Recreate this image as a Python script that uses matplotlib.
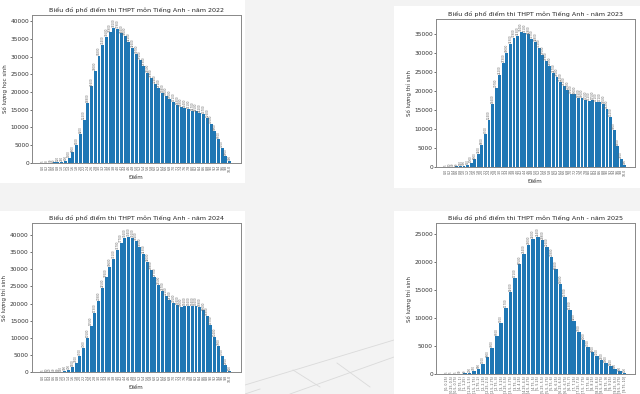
import matplotlib
matplotlib.use('Agg')
import matplotlib.pyplot as plt
from matplotlib.patches import Rectangle
from matplotlib.lines import Line2D

# ---- data (approximate) ----
scores_02 = ['%.1f' % (i * 0.2) for i in range(51)]
scores_025 = ['[%g, %g)' % (i * 0.25, (i + 1) * 0.25) for i in range(39)] + ['[9.75, 10]']

counts_2022 = [5, 8, 30, 60, 120, 260, 600, 1300, 2900, 5100,
               8200, 12200, 16800, 21600, 26000, 30200, 33400, 35600, 36900, 38100,
               37900, 36600, 36000, 34100, 32600, 30700, 29100, 27300, 25500, 23900,
               22400, 21100, 19800, 19000, 18000, 17100, 16300, 15800, 15400, 15100,
               14700, 14500, 14200, 13700, 12600, 11000, 9000, 6700, 4100, 1800, 400]

counts_2023 = [5, 10, 40, 80, 150, 300, 550, 1000, 1900, 3400,
               5800, 8700, 12400, 16600, 20700, 24200, 27300, 30000, 32300, 33900,
               34300, 35400, 35100, 34800, 33700, 32800, 31200, 29500, 27900, 26500,
               24700, 23500, 22200, 21200, 20300, 19100, 19000, 18200, 18000, 17500,
               17200, 17500, 17100, 17100, 16500, 15200, 13200, 9600, 5400, 2100, 400]

counts_2024 = [5, 10, 20, 40, 80, 150, 300, 700, 1500, 2700,
               4700, 7000, 10100, 13500, 17300, 20800, 24500, 27600, 30600, 33100,
               35700, 37700, 39200, 39400, 39100, 38200, 36500, 34300, 32000, 29800,
               27700, 25500, 23700, 22100, 21100, 20100, 19600, 19000, 19200, 19200,
               19400, 19200, 18900, 18000, 16300, 13700, 10400, 7600, 4700, 2100, 500]

counts_2025 = [5, 5, 5, 30, 40, 200, 450, 900, 1700, 2900,
               4600, 6700, 9100, 11700, 14600, 17100, 19500, 21400, 23000, 24000,
               24400, 23800, 22600, 20800, 18600, 16000, 13700, 11300, 9400, 7500,
               6000, 4700, 3800, 3100, 2500, 1900, 1400, 800, 400, 100]

years = ['2022', '2023', '2024', '2025']
ylabels = ['Số lượng học sinh', 'Số lượng thí sinh', 'Số lượng thí sinh', 'Số lượng thí sinh']
xlabels = ['Điểm', 'Điểm', 'Điểm', '']   # last one falls outside the screenshot
W, H = 640.0, 394.0

# panel white boxes and axes boxes in pixels: (left, top, right, bottom)
boxes = [(0, 0, 245, 183), (394, 6, 640, 188), (0, 211, 245, 394), (394, 211, 640, 394)]
axboxes = [(32, 14.7, 240.7, 162.7), (435.7, 18.7, 635.3, 166.7),
           (31.5, 223.3, 240.7, 372.3), (435.7, 223.3, 635.3, 373.7)]


def plot_panel(fig, axbox, year, labels, counts, ylabel, xlabel):
    l, t, r, b = axbox
    ax = fig.add_axes([l / W, 1 - b / H, (r - l) / W, (b - t) / H], zorder=2)
    x = range(len(counts))
    ax.bar(x, counts, color='#1f77b4', width=0.8)
    top = max(counts) * 1.1
    for i, v in zip(x, counts):
        ax.text(i, v + top * 0.006, str(v), rotation=90, ha='center', va='bottom',
                fontsize=2.0, color='#666666')
    ax.set_ylim(0, top)
    ax.set_xticks(list(x))
    ax.set_xticklabels(labels, rotation=90, fontsize=2.3, color='#555555')
    ax.tick_params(axis='y', labelsize=4.2, length=1.2, width=0.4, pad=0.8, labelcolor='#333333')
    ax.tick_params(axis='x', length=1.0, width=0.3, pad=0.8)
    ax.set_title('Biểu đồ phổ điểm thi THPT môn Tiếng Anh - năm ' + year, fontsize=4.6, pad=2.2,
                 color='#222222')
    ax.set_ylabel(ylabel, fontsize=4.0, labelpad=1.8, color='#333333')
    if xlabel:
        ax.set_xlabel(xlabel, fontsize=4.0, labelpad=1.8, color='#333333')
    for s in ax.spines.values():
        s.set_linewidth(0.7)
        s.set_color('#888888')
    return ax


fig = plt.figure(figsize=(6.4, 3.94), dpi=100)
fig.patch.set_facecolor('#f3f3f3')

# faint floor grid seen behind the lower panels
for x0, y0, x1, y1 in [(245, 385, 394, 340), (290, 394, 394, 357), (245, 394, 260, 389),
                       (293, 370, 320, 387), (337, 363, 370, 387)]:
    fig.add_artist(Line2D([x0 / W, x1 / W], [1 - y0 / H, 1 - y1 / H], color='#dadada', lw=0.6,
                          zorder=-2))

for (l, t, r, b) in boxes:
    fig.add_artist(Rectangle((l / W, 1 - b / H), (r - l) / W, (b - t) / H,
                             transform=fig.transFigure, facecolor='white', edgecolor='none',
                             zorder=-1))

all_counts = [counts_2022, counts_2023, counts_2024, counts_2025]
all_labels = [scores_02, scores_02, scores_02, scores_025]
for axbox, year, labels, counts, ylabel, xlabel in zip(axboxes, years, all_labels, all_counts,
                                                       ylabels, xlabels):
    plot_panel(fig, axbox, year, labels, counts, ylabel, xlabel)

fig.savefig('out.png', dpi=100, facecolor=fig.get_facecolor())
